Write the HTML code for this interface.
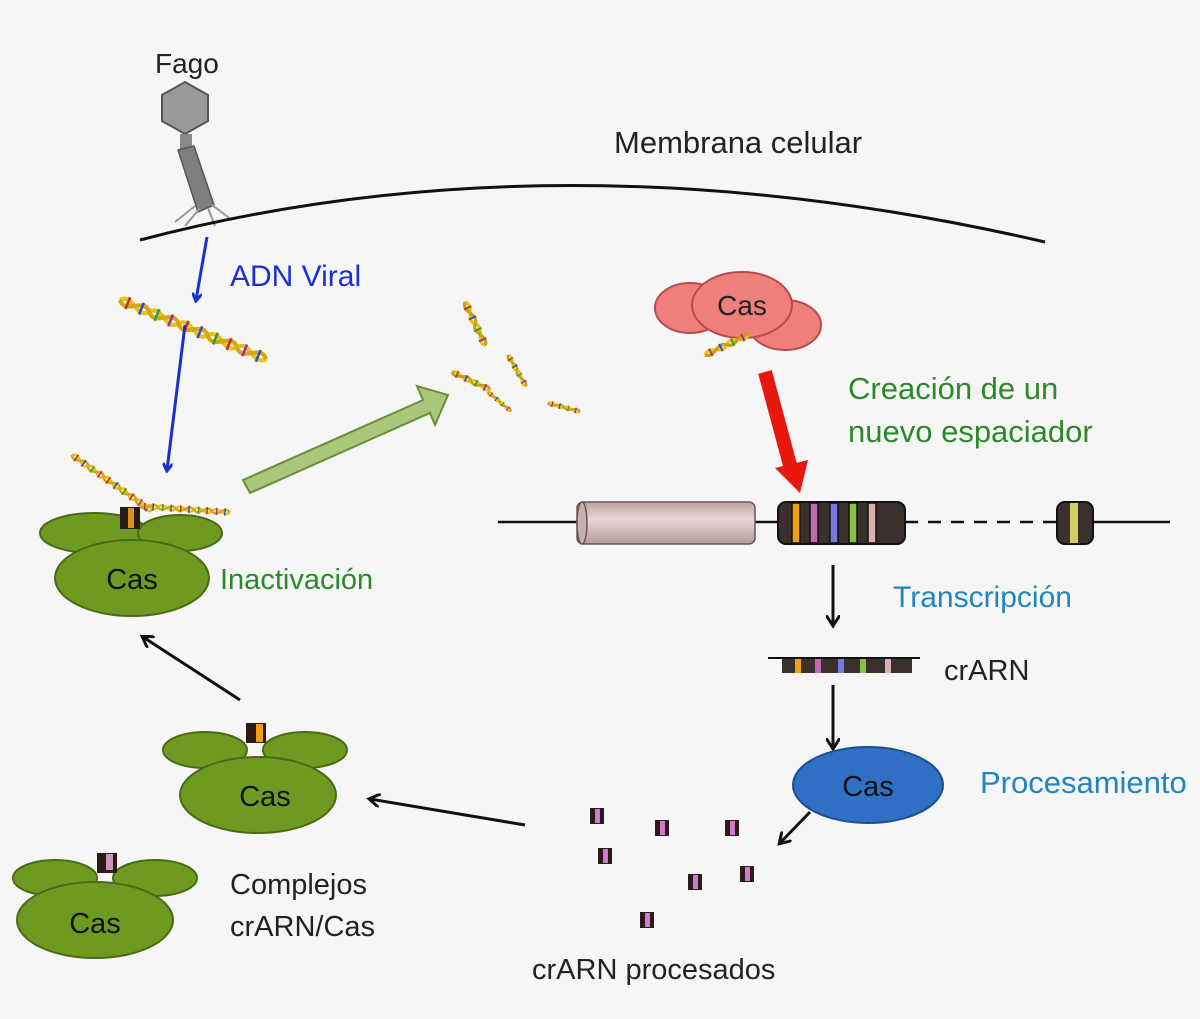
<!DOCTYPE html>
<html><head><meta charset="utf-8"><style>
html,body{margin:0;padding:0;background:#f6f6f6;}
svg{display:block;}
text{font-family:"Liberation Sans","DejaVu Sans",sans-serif;}
</style></head><body>
<svg width="1200" height="1019" viewBox="0 0 1200 1019" xmlns="http://www.w3.org/2000/svg">
<defs>
<marker id="ab" markerWidth="10" markerHeight="10" refX="7" refY="5" orient="auto" markerUnits="userSpaceOnUse"><path d="M0,0 L8,5 L0,10" fill="none" stroke="#1a2fd0" stroke-width="3"/></marker>
<marker id="ak" markerWidth="14" markerHeight="14" refX="10" refY="7" orient="auto" markerUnits="userSpaceOnUse"><path d="M0,0 L11,7 L0,14" fill="none" stroke="#111" stroke-width="3"/></marker>
<linearGradient id="cyl" x1="0" y1="0" x2="0" y2="1"><stop offset="0" stop-color="#b9a3a3"/><stop offset="0.4" stop-color="#ead6d6"/><stop offset="1" stop-color="#b59b9b"/></linearGradient>
<g id="dna">
<path d="M0,0 C10,-12 20,12 30,0 C40,-12 50,12 60,0 C70,-12 80,12 90,0 C100,-12 110,12 120,0 C130,-12 140,12 150,0" fill="none" stroke="#e8c21a" stroke-width="4"/>
<path d="M0,0 C10,12 20,-12 30,0 C40,12 50,-12 60,0 C70,12 80,-12 90,0 C100,12 110,-12 120,0 C130,12 140,-12 150,0" fill="none" stroke="#d4a810" stroke-width="4"/>
<g stroke-width="2.5"><line x1="8" y1="-6" x2="8" y2="6" stroke="#c03030"/><line x1="22" y1="-6" x2="22" y2="6" stroke="#3050c0"/><line x1="38" y1="-6" x2="38" y2="6" stroke="#30a030"/><line x1="52" y1="-6" x2="52" y2="6" stroke="#a030a0"/><line x1="68" y1="-6" x2="68" y2="6" stroke="#c03030"/><line x1="82" y1="-6" x2="82" y2="6" stroke="#3050c0"/><line x1="98" y1="-6" x2="98" y2="6" stroke="#30a030"/><line x1="112" y1="-6" x2="112" y2="6" stroke="#c03030"/><line x1="128" y1="-6" x2="128" y2="6" stroke="#a030a0"/><line x1="142" y1="-6" x2="142" y2="6" stroke="#3050c0"/></g>
</g>
<g id="frag">
<path d="M0,0 C10,-10 20,10 30,0 C40,-10 50,10 60,0" fill="none" stroke="#e8c21a" stroke-width="4"/>
<path d="M0,0 C10,10 20,-10 30,0 C40,10 50,-10 60,0" fill="none" stroke="#c9a010" stroke-width="4"/>
<g stroke-width="2.5"><line x1="8" y1="-5" x2="8" y2="5" stroke="#c03030"/><line x1="22" y1="-5" x2="22" y2="5" stroke="#3050c0"/><line x1="38" y1="-5" x2="38" y2="5" stroke="#30a030"/><line x1="52" y1="-5" x2="52" y2="5" stroke="#a030a0"/></g>
</g>
<g id="sq"><rect x="0" y="0" width="14" height="16" fill="#2a1a1a"/><rect x="5" y="1" width="5" height="14" fill="#d07acc"/></g>
</defs>

<text x="155" y="73" font-size="28" fill="#222">Fago</text>
<polygon points="185,82 208,95 208,121 185,134 162,121 162,95" fill="#9a9a9a" stroke="#555" stroke-width="2"/>
<rect x="180" y="134" width="12" height="20" fill="#888"/>
<polygon points="178,150 194,146 214,205 198,212" fill="#7f7f7f" stroke="#555" stroke-width="1.5"/>
<g stroke="#999" stroke-width="2"><line x1="195" y1="206" x2="175" y2="222"/><line x1="200" y1="208" x2="185" y2="226"/><line x1="208" y1="208" x2="215" y2="226"/><line x1="212" y1="205" x2="232" y2="220"/></g>

<path d="M140,240 Q560,130 1045,242" fill="none" stroke="#111" stroke-width="3"/>
<text x="614" y="153" font-size="31" fill="#222">Membrana  celular</text>

<line x1="207" y1="237" x2="196" y2="300" stroke="#1a2fd0" stroke-width="3" marker-end="url(#ab)"/>
<text x="230" y="286" font-size="30" fill="#1a2fd0">ADN Viral</text>
<use href="#dna" transform="translate(120,300) rotate(22) scale(1.05)"/>
<line x1="185" y1="325" x2="167" y2="470" stroke="#1a2fd0" stroke-width="3" marker-end="url(#ab)"/>

<polygon points="243,480 423,400 417,386 448,395 435,425 430,413 250,493" fill="#a9c77a" stroke="#6b8e3a" stroke-width="2"/>

<use href="#frag" transform="translate(465,302) rotate(65) scale(0.8)"/>
<use href="#frag" transform="translate(452,372) rotate(25) scale(0.7)"/>
<use href="#frag" transform="translate(508,355) rotate(60) scale(0.6)"/>
<use href="#frag" transform="translate(488,392) rotate(40) scale(0.5)"/>
<use href="#frag" transform="translate(548,403) rotate(15) scale(0.55)"/>

<g fill="#ee7f7b" stroke="#b84a48" stroke-width="2">
<ellipse cx="690" cy="308" rx="35" ry="25"/>
<ellipse cx="785" cy="325" rx="36" ry="25"/>
<ellipse cx="742" cy="305" rx="50" ry="33"/>
</g>
<use href="#frag" transform="translate(705,355) rotate(-25) scale(0.8)"/>
<text x="742" y="315" font-size="28" fill="#222" text-anchor="middle">Cas</text>
<line x1="765" y1="372" x2="790" y2="465" stroke="#e8160c" stroke-width="14"/>
<polygon points="775,468 808,460 800,493" fill="#e8160c"/>
<text x="848" y="399" font-size="31" fill="#2a8a2a">Creación de un</text>
<text x="848" y="442" font-size="31" fill="#2a8a2a">nuevo espaciador</text>

<line x1="498" y1="522" x2="905" y2="522" stroke="#111" stroke-width="2.5"/>
<line x1="905" y1="522" x2="1057" y2="522" stroke="#111" stroke-width="2.5" stroke-dasharray="13,10"/>
<line x1="1093" y1="522" x2="1170" y2="522" stroke="#111" stroke-width="2.5"/>
<rect x="577" y="502" width="178" height="42" rx="6" fill="url(#cyl)" stroke="#6a5555" stroke-width="1.5"/>
<ellipse cx="582" cy="523" rx="5" ry="21" fill="#c8b0b0" stroke="#6a5555" stroke-width="1.5"/>
<rect x="778" y="502" width="127" height="42" rx="8" fill="#3a302e" stroke="#111" stroke-width="2"/>
<g stroke="#111" stroke-width="1.5">
<rect x="792" y="503" width="8" height="40" fill="#f0a010"/>
<rect x="810" y="503" width="8" height="40" fill="#c06ab0"/>
<rect x="830" y="503" width="8" height="40" fill="#7878e0"/>
<rect x="849" y="503" width="8" height="40" fill="#88c040"/>
<rect x="868" y="503" width="8" height="40" fill="#e0b0b0"/>
</g>
<rect x="1057" y="502" width="36" height="42" rx="8" fill="#3a302e" stroke="#111" stroke-width="2"/>
<rect x="1070" y="503" width="8" height="40" fill="#d0d060"/>

<line x1="833" y1="565" x2="833" y2="625" stroke="#111" stroke-width="3" marker-end="url(#ak)"/>
<text x="893" y="607" font-size="30" fill="#1f86c0">Transcripción</text>
<line x1="768" y1="658" x2="920" y2="658" stroke="#111" stroke-width="2"/>
<rect x="782" y="659" width="130" height="14" fill="#3a302e"/>
<g><rect x="795" y="659" width="6" height="14" fill="#f0a010"/><rect x="815" y="659" width="6" height="14" fill="#c06ab0"/><rect x="838" y="659" width="6" height="14" fill="#7878e0"/><rect x="860" y="659" width="6" height="14" fill="#88c040"/><rect x="885" y="659" width="6" height="14" fill="#e0b0b0"/></g>
<text x="944" y="680" font-size="29" fill="#222">crARN</text>
<line x1="833" y1="685" x2="833" y2="748" stroke="#111" stroke-width="3" marker-end="url(#ak)"/>

<ellipse cx="868" cy="785" rx="75" ry="38" fill="#2f6fc4" stroke="#1d4e90" stroke-width="2"/>
<text x="868" y="796" font-size="29" fill="#111" text-anchor="middle">Cas</text>
<text x="980" y="793" font-size="31" fill="#1f86c0">Procesamiento</text>
<line x1="810" y1="812" x2="780" y2="843" stroke="#111" stroke-width="3" marker-end="url(#ak)"/>

<use href="#sq" x="590" y="808"/>
<use href="#sq" x="655" y="820"/>
<use href="#sq" x="725" y="820"/>
<use href="#sq" x="598" y="848"/>
<use href="#sq" x="740" y="866"/>
<use href="#sq" x="688" y="874"/>
<use href="#sq" x="640" y="912"/>
<text x="532" y="979" font-size="29" fill="#222">crARN procesados</text>

<line x1="525" y1="825" x2="370" y2="799" stroke="#111" stroke-width="3" marker-end="url(#ak)"/>
<line x1="240" y1="700" x2="143" y2="637" stroke="#111" stroke-width="3" marker-end="url(#ak)"/>

<g fill="#6f9a22" stroke="#4a6a14" stroke-width="2">
<ellipse cx="94" cy="533" rx="54" ry="20"/><ellipse cx="180" cy="533" rx="42" ry="18"/>
<ellipse cx="132" cy="578" rx="77" ry="38"/>
<ellipse cx="205" cy="750" rx="42" ry="18"/><ellipse cx="305" cy="750" rx="42" ry="18"/>
<ellipse cx="258" cy="795" rx="78" ry="38"/>
<ellipse cx="55" cy="878" rx="42" ry="18"/><ellipse cx="155" cy="878" rx="42" ry="18"/>
<ellipse cx="95" cy="920" rx="78" ry="38"/>
</g>
<use href="#dna" transform="translate(72,455) rotate(35) scale(0.65)"/>
<use href="#dna" transform="translate(140,506) rotate(4) scale(0.6)"/>
<rect x="120" y="507" width="20" height="22" fill="#2a1a10"/><rect x="128" y="508" width="6" height="20" fill="#e09020"/>
<rect x="246" y="723" width="20" height="20" fill="#2a1a10"/><rect x="256" y="724" width="7" height="18" fill="#f0a010"/>
<rect x="97" y="853" width="20" height="20" fill="#2a1a10"/><rect x="106" y="854" width="7" height="16" fill="#d090c0"/>
<text x="132" y="589" font-size="29" fill="#111" text-anchor="middle">Cas</text>
<text x="265" y="806" font-size="29" fill="#111" text-anchor="middle">Cas</text>
<text x="95" y="933" font-size="29" fill="#111" text-anchor="middle">Cas</text>
<text x="220" y="589" font-size="29" fill="#2a8a2a">Inactivación</text>
<text x="230" y="894" font-size="29" fill="#222">Complejos</text>
<text x="230" y="936" font-size="29" fill="#222">crARN/Cas</text>
</svg>
</body></html>
